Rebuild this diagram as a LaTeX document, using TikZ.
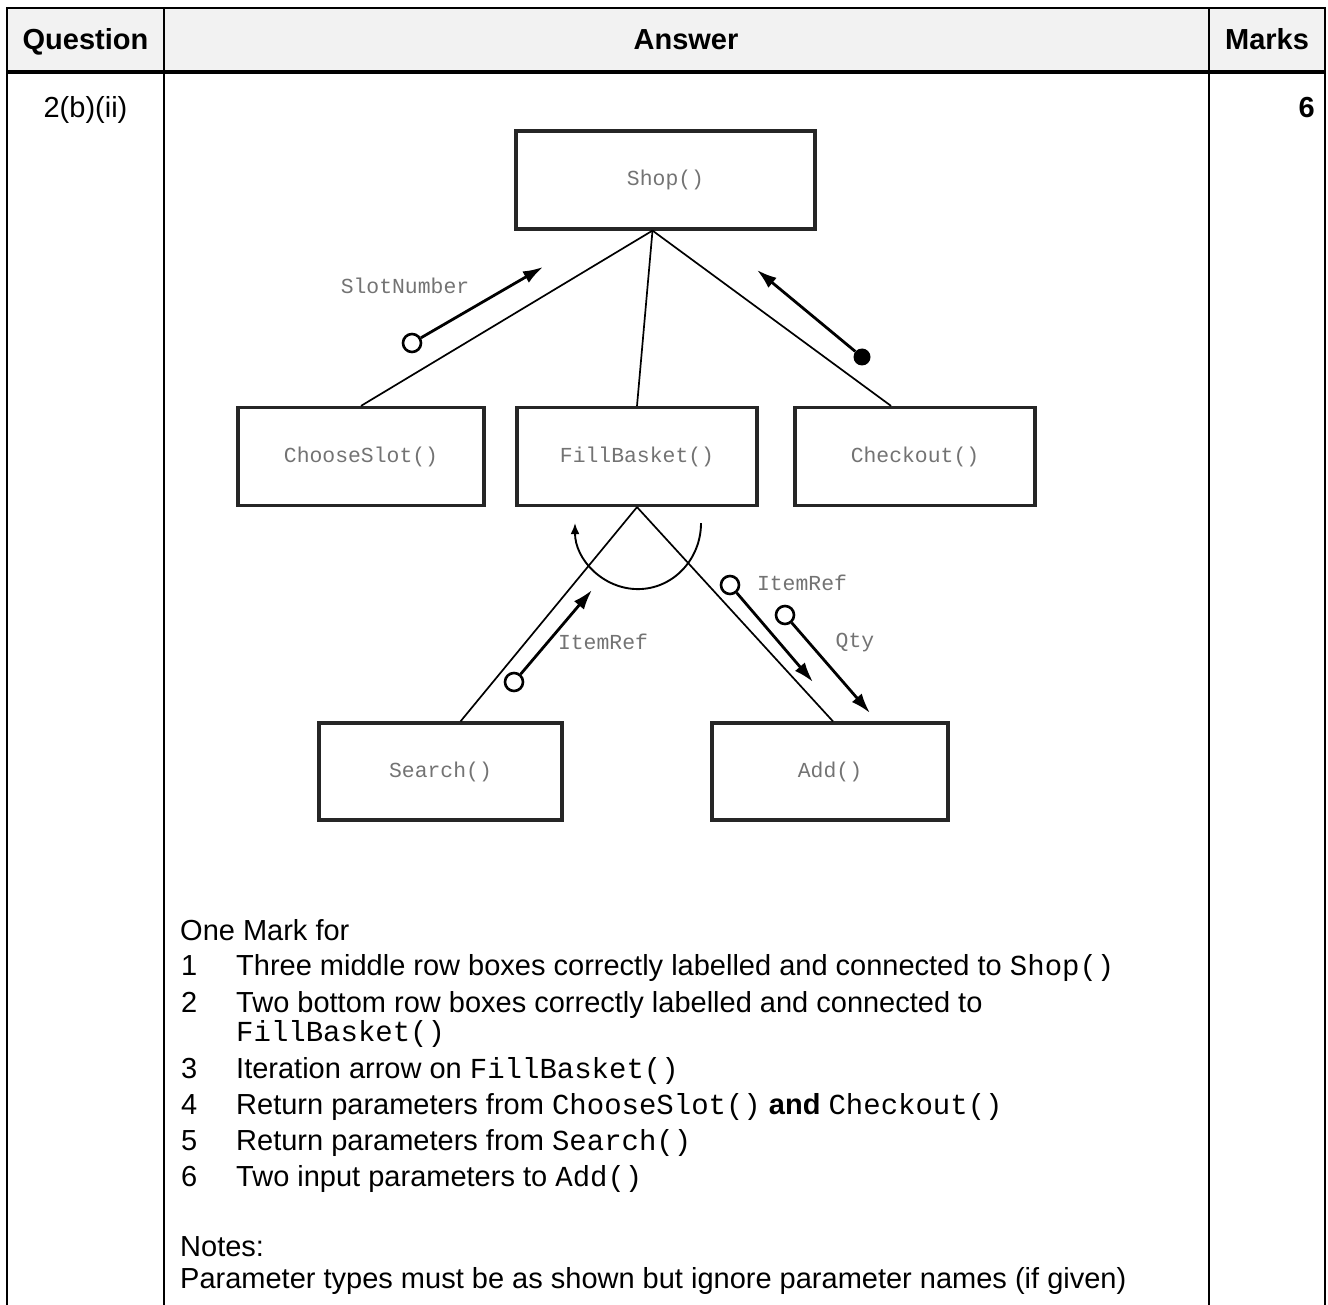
\documentclass[tikz,border=0pt]{standalone}
\usepackage{fontspec}
\setmainfont{Liberation Sans}
\setmonofont{Liberation Mono}
\usetikzlibrary{arrows.meta, calc}

\begin{document}
\begin{tikzpicture}[
    x=1pt, y=-1pt, % one unit = one pixel of the page, y running down
    >=Latex,
    box/.style={draw=black!85, line width=3.2pt, minimum height=98pt, inner sep=0pt,
        font=\fontsize{21.4}{21.4}\selectfont\ttfamily, text=black!55}, % chart boxes
    link/.style={line width=1.7pt}, % chart lines
    param/.style={-{Latex[length=20pt, width=13pt]}, line width=2.8pt}, % data couples
    hollow/.style={circle, draw, line width=2.6pt, fill=white, minimum size=18pt, inner sep=0pt},
    blackdot/.style={circle, fill=black, minimum size=17pt, inner sep=0pt},
    plabel/.style={font=\fontsize{21.4}{21.4}\selectfont\ttfamily, text=black!55},
    iterarrow/.style={-{Latex[length=11pt, width=9pt]}, line width=1.9pt},
    rule/.style={line width=2pt},
    head/.style={anchor=base, inner sep=0pt, font=\fontsize{29}{34}\selectfont\bfseries},
    body/.style={anchor=base west, inner sep=0pt, font=\fontsize{29}{34}\selectfont}
]
    \useasboundingbox (0,0) rectangle (1328,1305);

%    ############# TABLE
    \fill[black!5] (7,8) rectangle (1325,72);
    \draw[rule] (7,1305) -- (7,8) -- (1325,8) -- (1325,1305);
    \draw[rule] (164,8) -- (164,1305);
    \draw[rule] (1209,8) -- (1209,1305);
    \draw[line width=4pt] (7,72) -- (1325,72);

    \node[head] (hquestion) at (85.5,50) {Question};
    \node[head] (hanswer) at (686,50) {Answer};
    \node[head] (hmarks) at (1267,50) {Marks};

    \node[body, anchor=base] (qnum) at (85.5,118) {2(b)(ii)};
    \node[head, anchor=base east] (total) at (1315,118) {6};

%    ############# STRUCTURE CHART
    \node[box, minimum width=299pt] (shop) at (665.5,180) {Shop()};
    \node[box, minimum width=246pt] (choose) at (361,456.5) {ChooseSlot()};
    \node[box, minimum width=240pt] (fill) at (637,456.5) {FillBasket()};
    \node[box, minimum width=240pt] (checkout) at (915,456.5) {Checkout()};
    \node[box, minimum width=243pt, minimum height=97pt] (search) at (440.5,771.5) {Search()};
    \node[box, minimum width=236pt, minimum height=97pt] (add) at (830,771.5) {Add()};

    \coordinate (shopfoot) at ($(shop.south)+(-13,0)$);    % lines leave Shop() here
    \coordinate (checktop) at ($(checkout.north)+(-24,0)$);
    \coordinate (searchtop) at ($(search.north)+(20,0)$);
    \coordinate (addtop) at ($(add.north)+(3,0)$);

    \draw[link] (shopfoot) -- (choose.north);
    \draw[link] (shopfoot) -- (fill.north);
    \draw[link] (shopfoot) -- (checktop);
    \draw[link] (fill.south) -- (searchtop);
    \draw[link] (fill.south) -- (addtop);

    % iteration
    \coordinate (loopstart) at ($(fill.south)+(64,16)$);
    \draw[iterarrow] (loopstart) arc[start angle=0, end angle=-180, x radius=63pt, y radius=66pt];

    % parameters
    \node[hollow] (slotin) at (412,343) {};
    \coordinate (slottip) at (543,267);
    \draw[param] (slotin) -- (slottip);
    \node[plabel] (slotlbl) at (405,286) {SlotNumber};

    \node[blackdot] (checkdot) at (862,357) {};
    \coordinate (checktip) at (757,270);
    \draw[param] (checkdot) -- (checktip);

    \node[hollow] (searchin) at (514,682) {};
    \coordinate (searchtip) at (592,590);
    \draw[param] (searchin) -- (searchtip);
    \node[plabel] (searchlbl) at (603,642) {ItemRef};

    \node[hollow] (itemin) at (730,585) {};
    \coordinate (itemtip) at (813,682);
    \draw[param] (itemin) -- (itemtip);
    \node[plabel] (itemlbl) at (802,583) {ItemRef};

    \node[hollow] (qtyin) at (785,615) {};
    \coordinate (qtytip) at (870,713);
    \draw[param] (qtyin) -- (qtytip);
    \node[plabel] (qtylbl) at (855,643) {Qty};

%    ############# MARK SCHEME
    \node[body] (markhead) at (180,940) {One Mark for};
    \node[body] (n1) at (181,975) {1};
    \node[body] (t1) at (236,975) {Three middle row boxes correctly labelled and connected to \texttt{Shop()}};
    \node[body] (n2) at (181,1012) {2};
    \node[body] (t2) at (236,1012) {Two bottom row boxes correctly labelled and connected to};
    \node[body] (t2b) at (236,1041) {\texttt{FillBasket()}};
    \node[body] (n3) at (181,1078) {3};
    \node[body] (t3) at (236,1078) {Iteration arrow on \texttt{FillBasket()}};
    \node[body] (n4) at (181,1114) {4};
    \node[body] (t4) at (236,1114) {Return parameters from \texttt{ChooseSlot()} \textbf{and} \texttt{Checkout()}};
    \node[body] (n5) at (181,1150) {5};
    \node[body] (t5) at (236,1150) {Return parameters from \texttt{Search()}};
    \node[body] (n6) at (181,1186) {6};
    \node[body] (t6) at (236,1186) {Two input parameters to \texttt{Add()}};

    \node[body] (notes) at (180,1256) {Notes:};
    \node[body] (notetext) at (180,1288) {Parameter types must be as shown but ignore parameter names (if given)};

\end{tikzpicture}
\end{document}
